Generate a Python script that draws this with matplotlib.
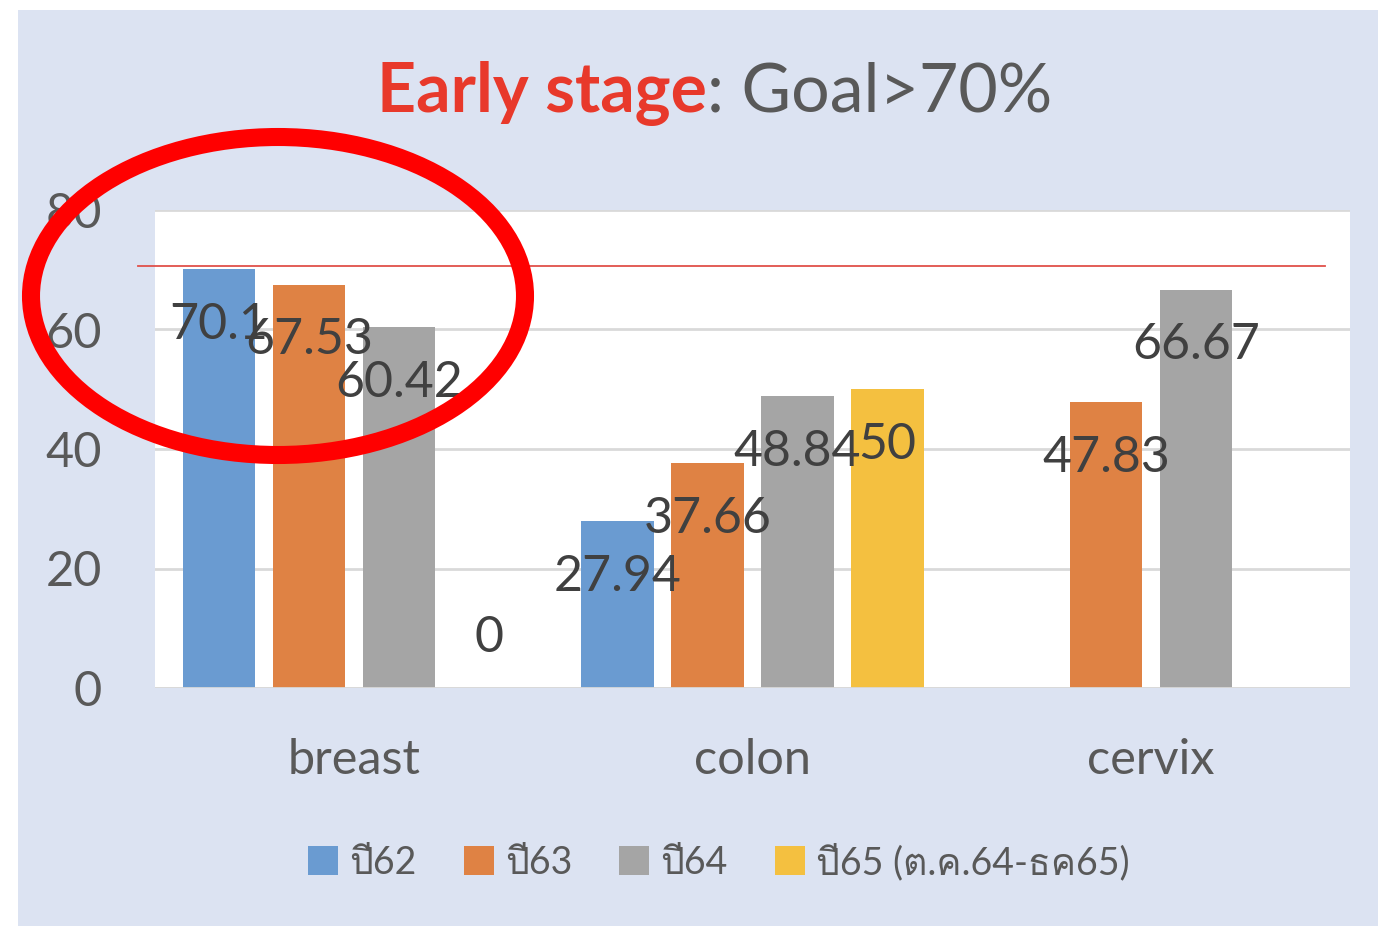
import numpy as np
import matplotlib
matplotlib.use('Agg')
import matplotlib.pyplot as plt
from matplotlib import font_manager
from matplotlib.ft2font import FT2Font
from matplotlib.patches import Ellipse, Rectangle

# ข้อมูล
categories = ['breast', 'colon', 'cervix']
series_names = ['ปี62', 'ปี63', 'ปี64', 'ปี65 (ต.ค.64-ธค65)']
y62 = [70.1, 27.94, np.nan]
y63 = [67.53, 37.66, 47.83]
y64 = [60.42, 48.84, 66.67]
y65 = [0, 50, np.nan]
goal = 70.6
colors = ['#6A9BD1', '#DF8244', '#A5A5A5', '#F4C040']

# หา font ที่มีตัวอักษรไทย
thai_fonts = []
for f in font_manager.fontManager.ttflist:
    try:
        if 0x0E1B in FT2Font(f.fname).get_charmap() and f.name not in thai_fonts:
            thai_fonts.append(f.name)
    except Exception:
        pass
base = ['Lato'] + thai_fonts + ['DejaVu Sans']
plt.rcParams['font.family'] = base

grey = '#595959'
fig = plt.figure(figsize=(13.78, 9.26), dpi=100, facecolor='white')
fig.add_artist(Rectangle((18 / 1378, 0), 1, 1 - 10 / 926, transform=fig.transFigure,
                         facecolor='#DCE3F2', edgecolor='none', zorder=-10))

ax = fig.add_axes([155 / 1378, 1 - 688 / 926, 1195 / 1378, 478 / 926])
ax.set_facecolor('white')

x = np.arange(len(categories))
width = 0.181
step = 0.226
for j, vals in enumerate([y62, y63, y64, y65]):
    pos = x + (j - 1.5) * step
    ax.bar(pos, vals, width, color=colors[j], label=series_names[j], zorder=3)
    for p, v in zip(pos, vals):
        if np.isnan(v):
            continue
        ty = v - 9.3 if v > 0 else v + 8.4
        ax.text(p, ty, f'{v:g}', ha='center', va='center', fontsize=36,
                color='#404040', zorder=5)

ax.set_xlim(-0.5, 2.5)
ax.set_ylim(0, 80)
ax.set_yticks([0, 20, 40, 60, 80])
ax.set_xticks(x)
ax.set_xticklabels(categories)
ax.tick_params(axis='y', length=0, labelsize=35, labelcolor=grey, pad=38)
ax.tick_params(axis='x', length=0, labelsize=35, labelcolor=grey, pad=36)
ax.grid(axis='y', color='#D9D9D9', linewidth=2, zorder=0)
for s in ax.spines.values():
    s.set_visible(False)
ax.axhline(0, color='#D9D9D9', linewidth=2, zorder=4)

# เส้นเป้าหมาย
ax.axhline(goal, xmin=-17 / 1195, xmax=1170 / 1195, color='#E0504A',
           linewidth=1.3, clip_on=False, zorder=4)

# หัวเรื่อง
fig.text(707 / 1378, 1 - 93 / 926, 'Early stage', ha='right', va='center',
         fontsize=49, fontweight='bold', color='#E8392B')
fig.text(707 / 1378, 1 - 93 / 926, ': Goal>70%', ha='left', va='center',
         fontsize=49, color=grey)

fig.legend(loc='center', bbox_to_anchor=(719 / 1378, 1 - 862 / 926), ncol=4,
           frameon=False, fontsize=27, labelcolor=grey, handlelength=0.8,
           handleheight=0.8, handletextpad=0.3, columnspacing=1.25)

# วงกลมสีแดง
fig.add_artist(Ellipse((278 / 1378, 1 - 296 / 926), 494 / 1378, 318 / 926,
                       transform=fig.transFigure, fill=False, edgecolor='#FF0000',
                       linewidth=13, zorder=20))

fig.savefig('out.png', dpi=100, facecolor='white')
